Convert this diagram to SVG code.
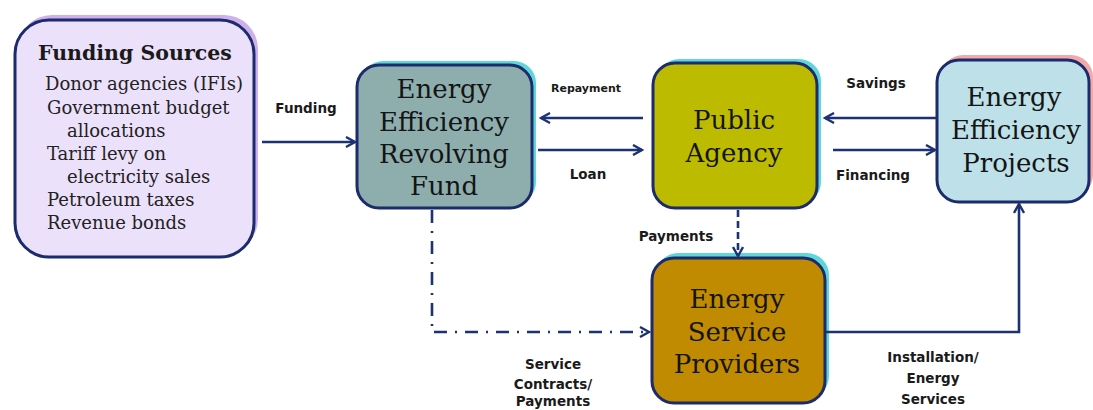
<svg xmlns="http://www.w3.org/2000/svg" width="1093" height="410" viewBox="0 0 1093 410">
<defs>
<style>
.box{stroke:#1b2b6b;stroke-width:3}
.node{font-family:"DejaVu Serif","Liberation Serif",serif;font-size:26px;fill:#141414;text-anchor:middle}
.src{font-family:"DejaVu Serif","Liberation Serif",serif;font-size:18px;fill:#222}
.lbl{font-family:"DejaVu Sans","Liberation Sans",sans-serif;font-weight:bold;font-size:13.5px;fill:#1a1a1a;text-anchor:middle}
.sm{font-size:11px}
.c{fill:none;stroke:#1d3275;stroke-width:2.6}
</style>
<marker id="ah" viewBox="0 0 12 12" refX="10" refY="6" markerWidth="12" markerHeight="12" markerUnits="userSpaceOnUse" orient="auto">
<path d="M1,1 L10,6 L1,11" fill="none" stroke="#1d3275" stroke-width="2.4"/>
</marker>
</defs>
<rect width="1093" height="410" fill="#fff"/>

<g id="funding-sources">
<rect x="18" y="15" width="240" height="238" rx="34" fill="#cfb0ec"/>
<rect class="box" x="15" y="20" width="239" height="237" rx="34" fill="#ece1fb"/>
<text x="38" y="60" font-family="DejaVu Serif, Liberation Serif, serif" font-weight="bold" font-size="20.5" fill="#1a1a1a">Funding Sources</text>
<text class="src" x="45" y="90">Donor agencies (IFIs)</text>
<text class="src" x="47" y="114">Government budget</text>
<text class="src" x="67" y="137">allocations</text>
<text class="src" x="47" y="160">Tariff levy on</text>
<text class="src" x="67" y="183">electricity sales</text>
<text class="src" x="47" y="206">Petroleum taxes</text>
<text class="src" x="47" y="229">Revenue bonds</text>
</g>

<g id="ee-revolving-fund">
<rect x="361" y="61" width="175" height="143" rx="22" fill="#5fd6da"/>
<rect class="box" x="357" y="65" width="175" height="143" rx="22" fill="#8eaeae"/>
<text class="node" x="444" y="98">Energy</text>
<text class="node" x="444" y="131">Efficiency</text>
<text class="node" x="444" y="163">Revolving</text>
<text class="node" x="444" y="195">Fund</text>
</g>

<g id="public-agency">
<rect x="657" y="59" width="164" height="145" rx="22" fill="#5fd6da"/>
<rect class="box" x="653" y="63" width="164" height="145" rx="22" fill="#bdbb00"/>
<text class="node" x="734" y="129">Public</text>
<text class="node" x="734" y="162">Agency</text>
</g>

<g id="ee-projects">
<rect x="941" y="55" width="152" height="142" rx="22" fill="#f2a9a9"/>
<rect class="box" x="937" y="60" width="152" height="142" rx="22" fill="#bde0e9"/>
<text class="node" x="1014" y="106">Energy</text>
<text class="node" x="1016" y="139">Efficiency</text>
<text class="node" x="1016" y="172">Projects</text>
</g>

<g id="energy-service-providers">
<rect x="656" y="253" width="173" height="145" rx="22" fill="#5fd6da"/>
<rect class="box" x="652" y="258" width="173" height="145" rx="22" fill="#c08b00"/>
<text class="node" x="737" y="308">Energy</text>
<text class="node" x="737" y="341">Service</text>
<text class="node" x="737" y="373">Providers</text>
</g>

<g id="connectors">
<line class="c" x1="262" y1="142" x2="355" y2="142" marker-end="url(#ah)"/>
<line class="c" x1="643" y1="118" x2="541" y2="118" marker-end="url(#ah)"/>
<line class="c" x1="538" y1="150" x2="642" y2="150" marker-end="url(#ah)"/>
<line class="c" x1="937" y1="118" x2="825" y2="118" marker-end="url(#ah)"/>
<line class="c" x1="833" y1="150" x2="935" y2="150" marker-end="url(#ah)"/>
<line class="c" x1="738" y1="210" x2="738" y2="256" stroke-dasharray="7,4" marker-end="url(#ah)"/>
<polyline class="c" points="432,210 432,332 649,332" stroke-dasharray="13,8,2,8" marker-end="url(#ah)"/>
<polyline class="c" points="826,332 1019,332 1019,204" marker-end="url(#ah)"/>
</g>

<g id="labels">
<text class="lbl" x="306" y="113">Funding</text>
<text class="lbl sm" x="586" y="92">Repayment</text>
<text class="lbl" x="588" y="179">Loan</text>
<text class="lbl" x="876" y="88">Savings</text>
<text class="lbl" x="873" y="180">Financing</text>
<text class="lbl" x="676" y="241">Payments</text>
<text class="lbl" x="553" y="369">Service</text>
<text class="lbl" x="553" y="389">Contracts/</text>
<text class="lbl" x="553" y="406">Payments</text>
<text class="lbl" x="933" y="362">Installation/</text>
<text class="lbl" x="933" y="383">Energy</text>
<text class="lbl" x="933" y="404">Services</text>
</g>
</svg>
